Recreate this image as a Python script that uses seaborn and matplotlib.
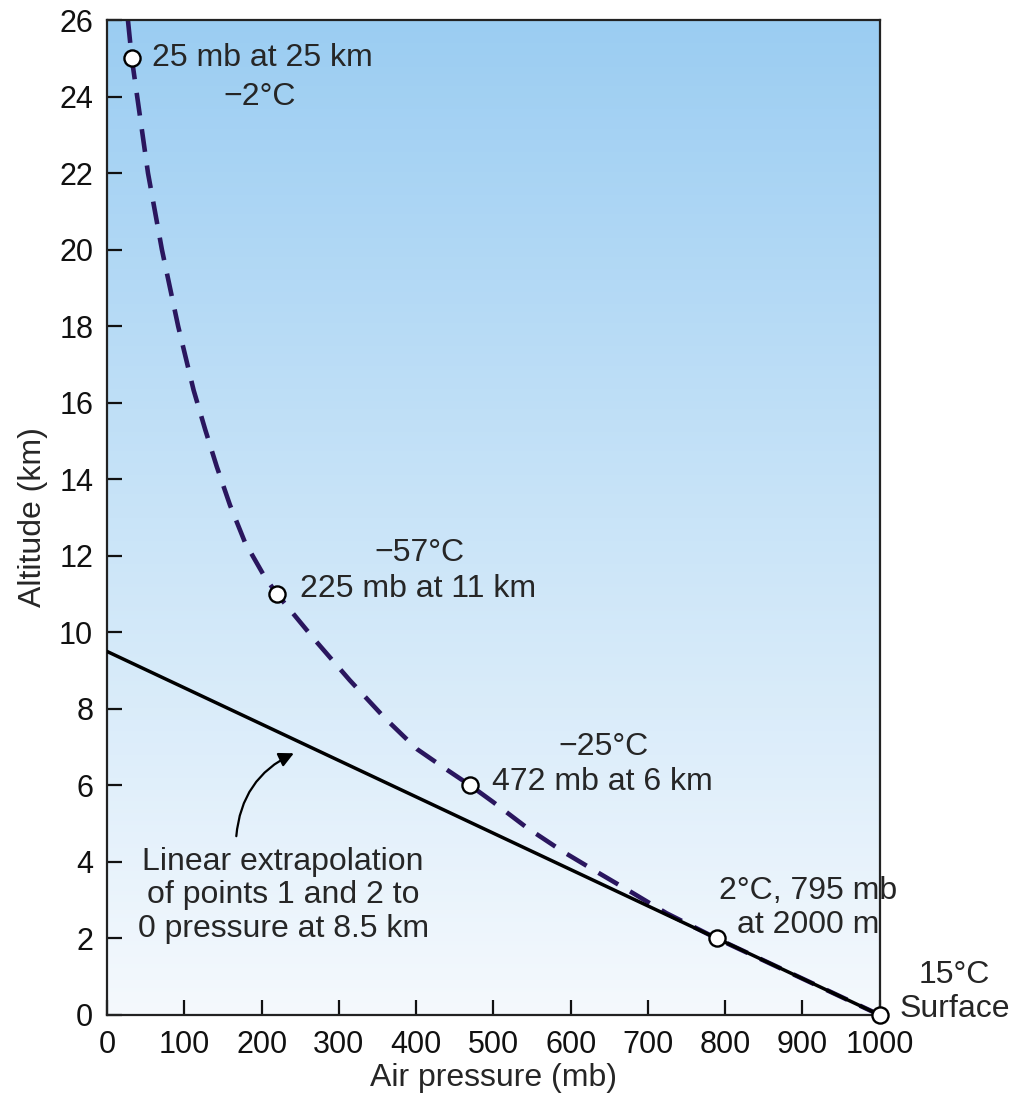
import matplotlib
matplotlib.use("Agg")
import matplotlib.pyplot as plt
import numpy as np
import pandas as pd
import seaborn as sns
from matplotlib.colors import LinearSegmentedColormap

# dashed curve: observed pressure vs altitude
curve_p = [27, 32, 53, 71, 92, 112, 127, 142, 159, 178.5, 204, 220, 269, 314,
           360, 401, 439, 470, 500, 543, 590, 633, 681, 724, 789, 900, 1000]
curve_alt = [26, 25, 22, 20, 18, 16.33, 15.3, 14.33, 13.33, 12.35, 11.45, 11,
             9.8, 8.75, 7.75, 6.95, 6.42, 6, 5.56, 4.9, 4.27, 3.75, 3.18,
             2.66, 2, 0.95, 0]

# linear extrapolation of points 1 and 2
ext_p = [0, 1000]
ext_alt = [9.5, 0]

# marked points
obs_p = [32, 220, 470, 789, 1000]
obs_alt = [25, 11, 6, 2, 0]

x_ticks = list(range(0, 1001, 100))
y_ticks = list(range(0, 27, 2))

sns.set_style("ticks")
plt.rcParams['font.family'] = ['Liberation Sans', 'DejaVu Sans']

fig = plt.figure(figsize=(10.1, 11.03), dpi=100)
ax = fig.add_axes([0.106, 0.0798, 0.765, 0.902])

# background gradient, light blue at top fading to white
cmap = LinearSegmentedColormap.from_list("sky", ["#f5f9fd", "#c9e4f8", "#9bcdf2"])
grad = np.linspace(0, 1, 256).reshape(-1, 1)
ax.imshow(grad, extent=[0, 1000, 0, 26], origin="lower", aspect="auto",
          cmap=cmap, zorder=0)

curve = pd.DataFrame({"p": curve_p, "alt": curve_alt})
ext = pd.DataFrame({"p": ext_p, "alt": ext_alt})
obs = pd.DataFrame({"p": obs_p, "alt": obs_alt})

sns.lineplot(data=curve, x="p", y="alt", sort=False, estimator=None,
             color="#2a165e", linewidth=3.3, ax=ax, zorder=2,
             linestyle=(0, (5.0, 3.0)))
sns.lineplot(data=ext, x="p", y="alt", sort=False, estimator=None,
             color="black", linewidth=2.5, ax=ax, zorder=3)
sns.scatterplot(data=obs, x="p", y="alt", s=135, color="white",
                edgecolor="black", linewidth=1.7, ax=ax, zorder=5, clip_on=False)

ax.set_xlim(0, 1000)
ax.set_ylim(0, 26)
ax.set_xticks(x_ticks)
ax.set_yticks(y_ticks)
ax.tick_params(direction="in", length=11, width=1.6, labelsize=22,
               pad=10, colors="#111111")
ax.tick_params(axis="x", pad=11)
for s in ax.spines.values():
    s.set_linewidth(1.6)
    s.set_color("#222222")

ax.set_xlabel("Air pressure (mb)", fontsize=23, labelpad=2)
ax.set_ylabel("Altitude (km)", fontsize=23, labelpad=8)

fs = 23
ax.text(58, 25.0, "25 mb at 25 km", fontsize=fs, ha="left", va="center")
ax.text(198, 24.0, "\u22122°C", fontsize=fs, ha="center", va="center")
ax.text(405, 12.07, "\u221257°C", fontsize=fs, ha="center", va="center")
ax.text(250, 11.13, "225 mb at 11 km", fontsize=fs, ha="left", va="center")
ax.text(643, 7.0, "\u221225°C", fontsize=fs, ha="center", va="center")
ax.text(498, 6.1, "472 mb at 6 km", fontsize=fs, ha="left", va="center")
ax.text(907, 2.8, "2°C, 795 mb\nat 2000 m", fontsize=fs, ha="center",
        va="center", linespacing=1.15, zorder=6)
ax.text(1097, 0.6, "15°C\nSurface", fontsize=fs, ha="center", va="center",
        linespacing=1.2, clip_on=False)
ax.text(228, 3.13, "Linear extrapolation\nof points 1 and 2 to\n0 pressure at 8.5 km",
        fontsize=fs, ha="center", va="center", linespacing=1.15)

ax.annotate("", xy=(245, 6.87), xytext=(167, 4.6),
            arrowprops=dict(arrowstyle="-|>", color="black", lw=1.6,
                            mutation_scale=22,
                            connectionstyle="arc3,rad=-0.3"))

fig.savefig("out.png", dpi=100)
